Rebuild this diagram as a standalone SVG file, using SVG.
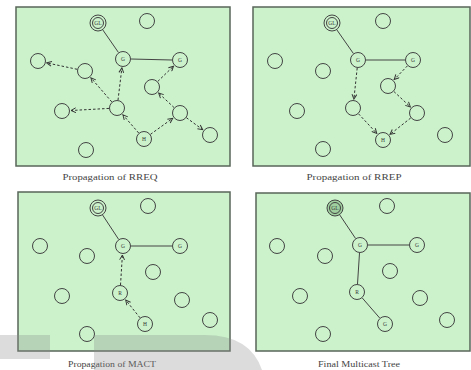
<svg xmlns="http://www.w3.org/2000/svg" width="471" height="370" viewBox="0 0 471 370">
<defs>
<marker id="ah" viewBox="0 0 10 10" refX="9" refY="5" markerWidth="6" markerHeight="6" orient="auto" markerUnits="userSpaceOnUse">
<path d="M1,1 L9,5 L1,9" fill="none" stroke="#333" stroke-width="1.6"/>
</marker>
</defs>
<style>
.panel{fill:#cbf2cb;stroke:#5a665a;stroke-width:1.5}
.n{fill:#cbf2cb;stroke:#444;stroke-width:1}
.gl{fill:#cbf2cb;stroke:#444;stroke-width:1}
.glf{fill:#9fcf9f;stroke:#444;stroke-width:1}
.lbl{font-family:"Liberation Serif",serif;font-size:5.5px;fill:#333;text-anchor:middle;dominant-baseline:central}
.cap{font-family:"Liberation Serif",serif;font-size:8px;fill:#444;text-anchor:middle}
.solid{stroke:#444;stroke-width:1;fill:none}
.dash{stroke:#333;stroke-width:1;stroke-dasharray:2.5,2;fill:none;marker-end:url(#ah)}
.wm{fill:#8a8a8a;opacity:0.3}
</style>
<rect width="471" height="370" fill="#ffffff"/>

<g id="panel1">
<rect class="panel" x="16" y="7" width="214" height="159"/>
<text class="cap" x="110" y="180" textLength="95" lengthAdjust="spacingAndGlyphs">Propagation of RREQ</text>
</g>
<g id="panel2">
<rect class="panel" x="253" y="7" width="217" height="159"/>
<text class="cap" x="354" y="180" textLength="95" lengthAdjust="spacingAndGlyphs">Propagation of RREP</text>
</g>
<g id="panel3">
<rect class="panel" x="18" y="192" width="212" height="159"/>
<text class="cap" x="112" y="367" textLength="88" lengthAdjust="spacingAndGlyphs">Propagation of MACT</text>
</g>
<g id="panel4">
<rect class="panel" x="256" y="193" width="214" height="158"/>
<text class="cap" x="359" y="367" textLength="82" lengthAdjust="spacingAndGlyphs">Final Multicast Tree</text>
</g>

<g id="connectors">
<!-- panel 1 -->
<line class="solid" x1="102.6" y1="29.6" x2="118.4" y2="52.4"/>
<line class="solid" x1="131" y1="59" x2="172" y2="60"/>
<line class="dash" x1="138.7" y1="133" x2="122.9" y2="114.8"/>
<line class="dash" x1="109" y1="108.4" x2="71" y2="110.5"/>
<line class="dash" x1="111.8" y1="101.9" x2="90.9" y2="77.8"/>
<line class="dash" x1="77.2" y1="69.3" x2="46.8" y2="62.9"/>
<line class="dash" x1="118" y1="100.1" x2="121.9" y2="67.9"/>
<line class="dash" x1="150.5" y1="134.3" x2="172.7" y2="118.3"/>
<line class="dash" x1="174.1" y1="107.6" x2="158.6" y2="93.1"/>
<line class="dash" x1="157.8" y1="81.4" x2="173.5" y2="66.2"/>
<line class="dash" x1="186.4" y1="117.7" x2="202.7" y2="129.7"/>
<!-- panel 2 -->
<line class="solid" x1="336.6" y1="29.5" x2="353.4" y2="53.5"/>
<line class="solid" x1="366" y1="60" x2="405" y2="60"/>
<line class="dash" x1="357.2" y1="68" x2="353.9" y2="99.1"/>
<line class="dash" x1="407.5" y1="65.8" x2="394.2" y2="79.5"/>
<line class="dash" x1="393.9" y1="91.5" x2="410.4" y2="106.9"/>
<line class="dash" x1="358.5" y1="113.8" x2="376.8" y2="133.4"/>
<line class="dash" x1="410.7" y1="118" x2="390" y2="134.4"/>
<!-- panel 3 -->
<line class="solid" x1="102.4" y1="214.7" x2="118.6" y2="239.3"/>
<line class="solid" x1="131" y1="246" x2="172" y2="246"/>
<line class="dash" x1="140" y1="317.8" x2="125.7" y2="300"/>
<line class="dash" x1="120.5" y1="285" x2="122.4" y2="255"/>
<!-- panel 4 -->
<line class="solid" x1="339.5" y1="214.6" x2="355.5" y2="238.4"/>
<line class="solid" x1="368" y1="245" x2="409" y2="245"/>
<line class="solid" x1="359.5" y1="253" x2="357.5" y2="284"/>
<line class="solid" x1="362.3" y1="298" x2="379.7" y2="318"/>
</g>

<!-- panel 1 nodes -->
<g id="p1-gl"><circle class="gl" cx="98" cy="23" r="8"/><circle class="gl" cx="98" cy="23" r="5.5"/><text class="lbl" x="98" y="23">GL</text></g>
<g id="p1-n1"><circle class="n" cx="147" cy="21" r="7.5"/></g>
<g id="p1-gc"><circle class="n" cx="123" cy="59" r="7.5"/><text class="lbl" x="123" y="59">G</text></g>
<g id="p1-gr"><circle class="n" cx="180" cy="60" r="7.5"/><text class="lbl" x="180" y="60">G</text></g>
<g id="p1-n2"><circle class="n" cx="38" cy="61" r="7.5"/></g>
<g id="p1-n3"><circle class="n" cx="85" cy="71" r="7.5"/></g>
<g id="p1-n4"><circle class="n" cx="152" cy="87" r="7.5"/></g>
<g id="p1-n5"><circle class="n" cx="180" cy="113" r="7.5"/></g>
<g id="p1-n6"><circle class="n" cx="117" cy="108" r="7.5"/></g>
<g id="p1-n7"><circle class="n" cx="62" cy="111" r="7.5"/></g>
<g id="p1-n8"><circle class="n" cx="210" cy="135" r="7.5"/></g>
<g id="p1-h"><circle class="n" cx="144" cy="139" r="7.5"/><text class="lbl" x="144" y="139">H</text></g>
<g id="p1-n9"><circle class="n" cx="86" cy="150" r="7.5"/></g>

<!-- panel 2 nodes -->
<g id="p2-gl"><circle class="gl" cx="332" cy="23" r="8"/><circle class="gl" cx="332" cy="23" r="5.5"/><text class="lbl" x="332" y="23">GL</text></g>
<g id="p2-n1"><circle class="n" cx="383" cy="21" r="7.5"/></g>
<g id="p2-gc"><circle class="n" cx="358" cy="60" r="7.5"/><text class="lbl" x="358" y="60">G</text></g>
<g id="p2-gr"><circle class="n" cx="413" cy="60" r="7.5"/><text class="lbl" x="413" y="60">G</text></g>
<g id="p2-n2"><circle class="n" cx="275" cy="61" r="7.5"/></g>
<g id="p2-n3"><circle class="n" cx="323" cy="71" r="7.5"/></g>
<g id="p2-n4"><circle class="n" cx="388" cy="86" r="7.5"/></g>
<g id="p2-n5"><circle class="n" cx="353" cy="108" r="7.5"/></g>
<g id="p2-n6"><circle class="n" cx="417" cy="113" r="7.5"/></g>
<g id="p2-n7"><circle class="n" cx="297" cy="111" r="7.5"/></g>
<g id="p2-n8"><circle class="n" cx="445" cy="135" r="7.5"/></g>
<g id="p2-h"><circle class="n" cx="383" cy="140" r="7.5"/><text class="lbl" x="383" y="140">H</text></g>
<g id="p2-n9"><circle class="n" cx="323" cy="149" r="7.5"/></g>

<!-- panel 3 nodes -->
<g id="p3-gl"><circle class="gl" cx="98" cy="208" r="8"/><circle class="gl" cx="98" cy="208" r="5.5"/><text class="lbl" x="98" y="208">GL</text></g>
<g id="p3-n1"><circle class="n" cx="148" cy="206" r="7.5"/></g>
<g id="p3-gc"><circle class="n" cx="123" cy="246" r="7.5"/><text class="lbl" x="123" y="246">G</text></g>
<g id="p3-gr"><circle class="n" cx="180" cy="246" r="7.5"/><text class="lbl" x="180" y="246">G</text></g>
<g id="p3-n2"><circle class="n" cx="40" cy="246" r="7.5"/></g>
<g id="p3-n3"><circle class="n" cx="87" cy="256" r="7.5"/></g>
<g id="p3-n4"><circle class="n" cx="153" cy="272" r="7.5"/></g>
<g id="p3-r"><circle class="n" cx="120" cy="293" r="7.5"/><text class="lbl" x="120" y="293">R</text></g>
<g id="p3-n5"><circle class="n" cx="62" cy="296" r="7.5"/></g>
<g id="p3-n6"><circle class="n" cx="182" cy="300" r="7.5"/></g>
<g id="p3-n7"><circle class="n" cx="210" cy="320" r="7.5"/></g>
<g id="p3-h"><circle class="n" cx="145" cy="324" r="7.5"/><text class="lbl" x="145" y="324">H</text></g>
<g id="p3-n8"><circle class="n" cx="87" cy="334" r="7.5"/></g>

<!-- panel 4 nodes -->
<g id="p4-gl"><circle class="glf" cx="335" cy="208" r="8"/><circle class="glf" cx="335" cy="208" r="5.5"/><text class="lbl" x="335" y="208">GL</text></g>
<g id="p4-n1"><circle class="n" cx="387" cy="206" r="7.5"/></g>
<g id="p4-gc"><circle class="n" cx="360" cy="245" r="7.5"/><text class="lbl" x="360" y="245">G</text></g>
<g id="p4-gr"><circle class="n" cx="417" cy="245" r="7.5"/><text class="lbl" x="417" y="245">G</text></g>
<g id="p4-n2"><circle class="n" cx="277" cy="246" r="7.5"/></g>
<g id="p4-n3"><circle class="n" cx="325" cy="256" r="7.5"/></g>
<g id="p4-n4"><circle class="n" cx="390" cy="271" r="7.5"/></g>
<g id="p4-r"><circle class="n" cx="357" cy="292" r="7.5"/><text class="lbl" x="357" y="292">R</text></g>
<g id="p4-n5"><circle class="n" cx="300" cy="296" r="7.5"/></g>
<g id="p4-n6"><circle class="n" cx="420" cy="298" r="7.5"/></g>
<g id="p4-n7"><circle class="n" cx="447" cy="320" r="7.5"/></g>
<g id="p4-g"><circle class="n" cx="385" cy="324" r="7.5"/><text class="lbl" x="385" y="324">G</text></g>
<g id="p4-n8"><circle class="n" cx="323" cy="334" r="7.5"/></g>

<!-- faint watermark -->
<rect class="wm" x="0" y="335" width="50" height="24"/>
<path class="wm" d="M94,335 H205 Q250,335 262,370 H94 Z"/>
</svg>
